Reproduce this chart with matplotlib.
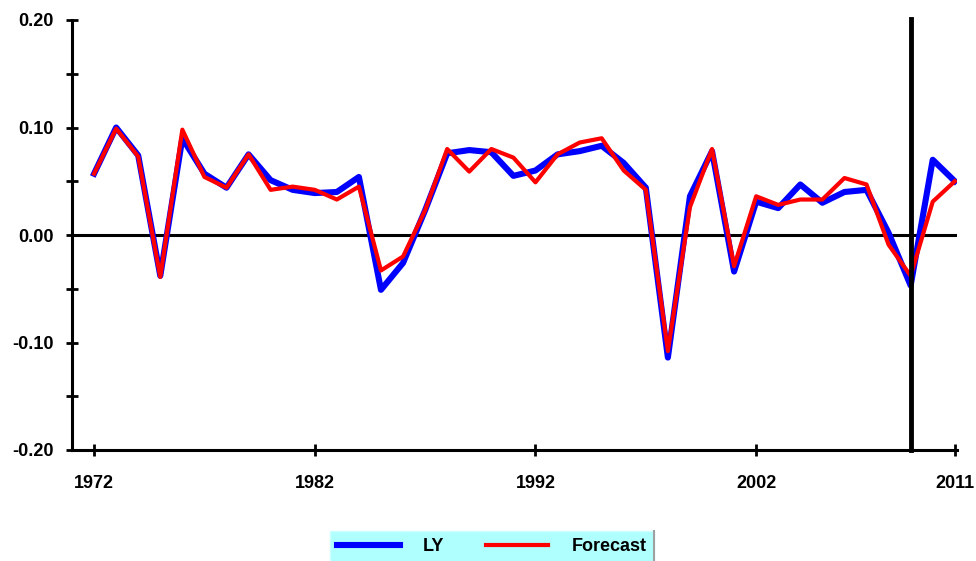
import numpy as np
import matplotlib
matplotlib.use("Agg")
import matplotlib.pyplot as plt
from matplotlib.lines import Line2D
from matplotlib.ticker import MultipleLocator, FormatStrFormatter

years = np.arange(1972, 2012)
ly = [0.057, 0.100, 0.074, -0.038, 0.090, 0.057, 0.044, 0.075, 0.051, 0.042,
      0.039, 0.040, 0.054, -0.051, -0.026, 0.023, 0.076, 0.079, 0.077, 0.055,
      0.060, 0.075, 0.078, 0.083, 0.067, 0.044, -0.114, 0.036, 0.078, -0.034,
      0.031, 0.025, 0.047, 0.030, 0.040, 0.042, 0.002, -0.047, 0.070, 0.050]
forecast = [0.057, 0.099, 0.073, -0.039, 0.098, 0.054, 0.044, 0.075, 0.042, 0.045,
            0.042, 0.033, 0.045, -0.033, -0.020, 0.023, 0.080, 0.059, 0.080, 0.072,
            0.049, 0.075, 0.086, 0.090, 0.060, 0.042, -0.108, 0.026, 0.080, -0.029,
            0.036, 0.028, 0.033, 0.033, 0.053, 0.047, -0.009, -0.038, 0.031, 0.050]
xtick_years = [1972, 1982, 1992, 2002, 2011]
split_year = 2009

plt.rcParams['font.family'] = ['Liberation Sans', 'DejaVu Sans']
plt.rcParams['font.weight'] = 'bold'

fig = plt.figure(figsize=(9.76, 5.61), dpi=100)
ax = fig.add_axes([72/976, 1 - 450/561, (957 - 72)/976, 430/561])

ax.plot(years, ly, color='#0000ff', lw=4.4, label='LY', solid_joinstyle='round')
ax.plot(years, forecast, color='#ff0000', lw=3.0, label='Forecast', solid_joinstyle='round')
ax.axhline(0, color='black', lw=2.2, zorder=1)
ax.axvline(split_year, color='black', lw=3.5, ymax=1.003, clip_on=False)

ax.set_xlim(1971, 2011.1)
ax.set_ylim(-0.20, 0.20)
ax.set_xticks(xtick_years)
ax.yaxis.set_major_locator(MultipleLocator(0.1))
ax.yaxis.set_minor_locator(MultipleLocator(0.05))
ax.yaxis.set_major_formatter(FormatStrFormatter('%.2f'))

for s in ['top', 'right']:
    ax.spines[s].set_visible(False)
for s in ['left', 'bottom']:
    ax.spines[s].set_linewidth(2.2)

ax.tick_params(axis='both', which='both', direction='inout', length=8.6, width=2.0,
               labelsize=13)
ax.tick_params(axis='y', which='major', pad=8.6)
ax.tick_params(axis='x', pad=13.5)
for lab in ax.get_xticklabels() + ax.get_yticklabels():
    lab.set_fontweight('bold')

leg = ax.legend(loc='upper left', bbox_to_anchor=(330/976, 1 - 531/561),
                bbox_transform=fig.transFigure, ncol=2, frameon=True,
                fancybox=False, framealpha=1, borderaxespad=0,
                handlelength=3.45, handletextpad=1.3, columnspacing=2.3,
                borderpad=0.4, prop={'size': 13, 'weight': 'bold'})
leg.get_frame().set_facecolor('#b0ffff')
leg.get_frame().set_edgecolor('#ccffff')
leg.get_frame().set_linewidth(1.0)

# grey shadow on the right edge of the legend box
fig.canvas.draw()
bb = leg.get_window_extent().transformed(fig.transFigure.inverted())
fig.add_artist(Line2D([bb.x1, bb.x1], [bb.y0, bb.y1], color='#a0a0a0', lw=1.5,
                      transform=fig.transFigure))

fig.savefig('out.png', dpi=100)
